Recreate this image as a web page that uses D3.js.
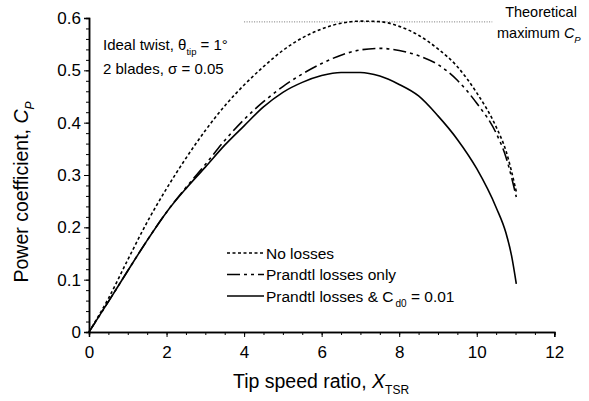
<!DOCTYPE html>
<html><head><meta charset="utf-8">
<script src="https://cdn.jsdelivr.net/npm/d3@7"></script>
<style>body{margin:0;background:#fff}svg{display:block}text{font-family:"Liberation Sans",Arial,sans-serif;fill:#000}</style>
</head><body><svg id="c" width="589" height="401"></svg>
<script>
// Data
const xNoLoss = [0,0.5,1,1.5,2,2.5,3,3.5,4,4.5,5,5.5,6,6.5,7,7.5,8,8.5,9,9.5,10,10.5,10.75,11.02];
const cpNoLoss = [0,0.064,0.138,0.21,0.274,0.332,0.385,0.432,0.472,0.507,0.538,0.562,0.579,0.59,0.594,0.593,0.584,0.567,0.541,0.507,0.457,0.392,0.347,0.268];
const xPrandtl = [0,0.5,1,1.5,2,2.5,3,3.5,4,4.5,5,5.5,6,6.5,7,7.5,8,8.5,9,9.5,10,10.5,10.75,11.02];
const cpPrandtl = [0,0.058,0.117,0.175,0.229,0.276,0.32,0.366,0.406,0.44,0.469,0.493,0.513,0.529,0.539,0.542,0.538,0.528,0.511,0.481,0.437,0.38,0.335,0.258];
const xDrag = [0,0.5,1,1.5,2,2.5,3,3.5,4,4.5,5,5.5,6,6.5,7,7.5,8,8.5,9,9.5,10,10.5,10.75,10.9,11.02];
const cpDrag = [0,0.058,0.117,0.175,0.229,0.274,0.315,0.357,0.394,0.43,0.458,0.477,0.49,0.496,0.496,0.489,0.473,0.451,0.413,0.368,0.312,0.238,0.19,0.145,0.092];
const xTicks = [0,2,4,6,8,10,12];
const yTicks = [0,0.1,0.2,0.3,0.4,0.5,0.6];
const theoMax = 16/27;
const theoRange = [4,10.4];

const svg = d3.select("#c");
const x = d3.scaleLinear().domain([0,12]).range([89,554.3]);
const y = d3.scaleLinear().domain([0,0.6]).range([332,18]);

// axes
const gx = svg.append("g").attr("transform","translate(0,332)");
gx.call(d3.axisBottom(x).tickValues(d3.range(0,12.01,0.5)).tickSize(3).tickFormat(""));
gx.append("g").call(d3.axisBottom(x).tickValues(xTicks).tickSize(5).tickFormat(d3.format("d")));
const gy = svg.append("g").attr("transform","translate(89,0)");
gy.call(d3.axisLeft(y).tickValues(d3.range(0,0.6001,0.02)).tickSize(3).tickFormat(""));
gy.append("g").call(d3.axisLeft(y).tickValues(yTicks).tickSize(5).tickFormat(d=>d===0?"0":d3.format(".1f")(d)));
svg.selectAll(".domain").attr("stroke","#000").attr("stroke-width",1.5);
svg.selectAll(".tick line").attr("stroke","#000").attr("stroke-width",1);
svg.selectAll(".tick text").attr("font-size",17).attr("font-family","Liberation Sans, Arial, sans-serif").attr("fill","#000");
gx.selectAll(".tick text").attr("y",8).attr("dy","1.06em");

// theoretical max line
svg.append("line").attr("x1",x(theoRange[0])).attr("x2",x(theoRange[1]))
  .attr("y1",y(theoMax)).attr("y2",y(theoMax)).attr("stroke","#777").attr("stroke-width",1).attr("stroke-dasharray","1,1.5");

const line = d3.line().x(d=>x(d[0])).y(d=>y(d[1])).curve(d3.curveMonotoneX);
const series = [
  {xs:xNoLoss, ys:cpNoLoss, dash:"3,2.5"},
  {xs:xPrandtl, ys:cpPrandtl, dash:"13,4,3,4,3,4"},
  {xs:xDrag, ys:cpDrag, dash:null}
];
series.forEach(s=>{
  svg.append("path").attr("d",line(s.xs.map((v,i)=>[v,s.ys[i]])))
    .attr("fill","none").attr("stroke","#000").attr("stroke-width",1.6)
    .attr("stroke-dasharray",s.dash);
});

// legend
const legend = [
  {dash:"3,2.5", parts:[["No losses",false]]},
  {dash:"13,4,3,4,3,4", parts:[["Prandtl losses only",false]]},
  {dash:null, parts:[["Prandtl losses & C",false],["d0",true],[" = 0.01",false]]}
];
legend.forEach((l,i)=>{
  const yy = 253 + i*21.5;
  svg.append("line").attr("x1",227).attr("x2",264).attr("y1",yy).attr("y2",yy)
    .attr("stroke","#000").attr("stroke-width",1.6).attr("stroke-dasharray",l.dash);
  const t = svg.append("text").attr("x",266).attr("y",yy+5.5).attr("font-size",15.5);
  l.parts.forEach(p=>{
    if(p[1]) t.append("tspan").attr("font-size",10).attr("dx",2).attr("dy",5).text(p[0]);
    else t.append("tspan").attr("dy", p===l.parts[0]?0:-5).text(p[0]);
  });
});

// annotation
const a1 = svg.append("text").attr("x",103).attr("y",50).attr("font-size",15);
a1.append("tspan").text("Ideal twist, θ");
a1.append("tspan").attr("font-size",9.5).attr("dy",5).text("tip");
a1.append("tspan").attr("dy",-5).text(" = 1°");
svg.append("text").attr("x",103).attr("y",74).attr("font-size",15).text("2 blades, σ = 0.05");

// theoretical max label
svg.append("text").attr("x",541).attr("y",17).attr("font-size",14.5).attr("text-anchor","middle").text("Theoretical");
const tm = svg.append("text").attr("x",497).attr("y",38).attr("font-size",14.5);
tm.append("tspan").text("maximum ");
tm.append("tspan").attr("font-style","italic").text("C");
tm.append("tspan").attr("font-size",9.5).attr("font-style","italic").attr("dy",5).text("P");

// axis titles
const xt = svg.append("text").attr("x",321).attr("y",388).attr("font-size",19.5).attr("text-anchor","middle");
xt.append("tspan").text("Tip speed ratio, ");
xt.append("tspan").attr("font-style","italic").text("X");
xt.append("tspan").attr("font-size",12).attr("dy",6).text("TSR");

const yt = svg.append("text").attr("transform","translate(28,192) rotate(-90)").attr("font-size",19.5).attr("text-anchor","middle");
yt.append("tspan").text("Power coefficient, ");
yt.append("tspan").attr("font-style","italic").text("C");
yt.append("tspan").attr("font-size",12).attr("font-style","italic").attr("dy",6).text("P");
</script></body></html>
